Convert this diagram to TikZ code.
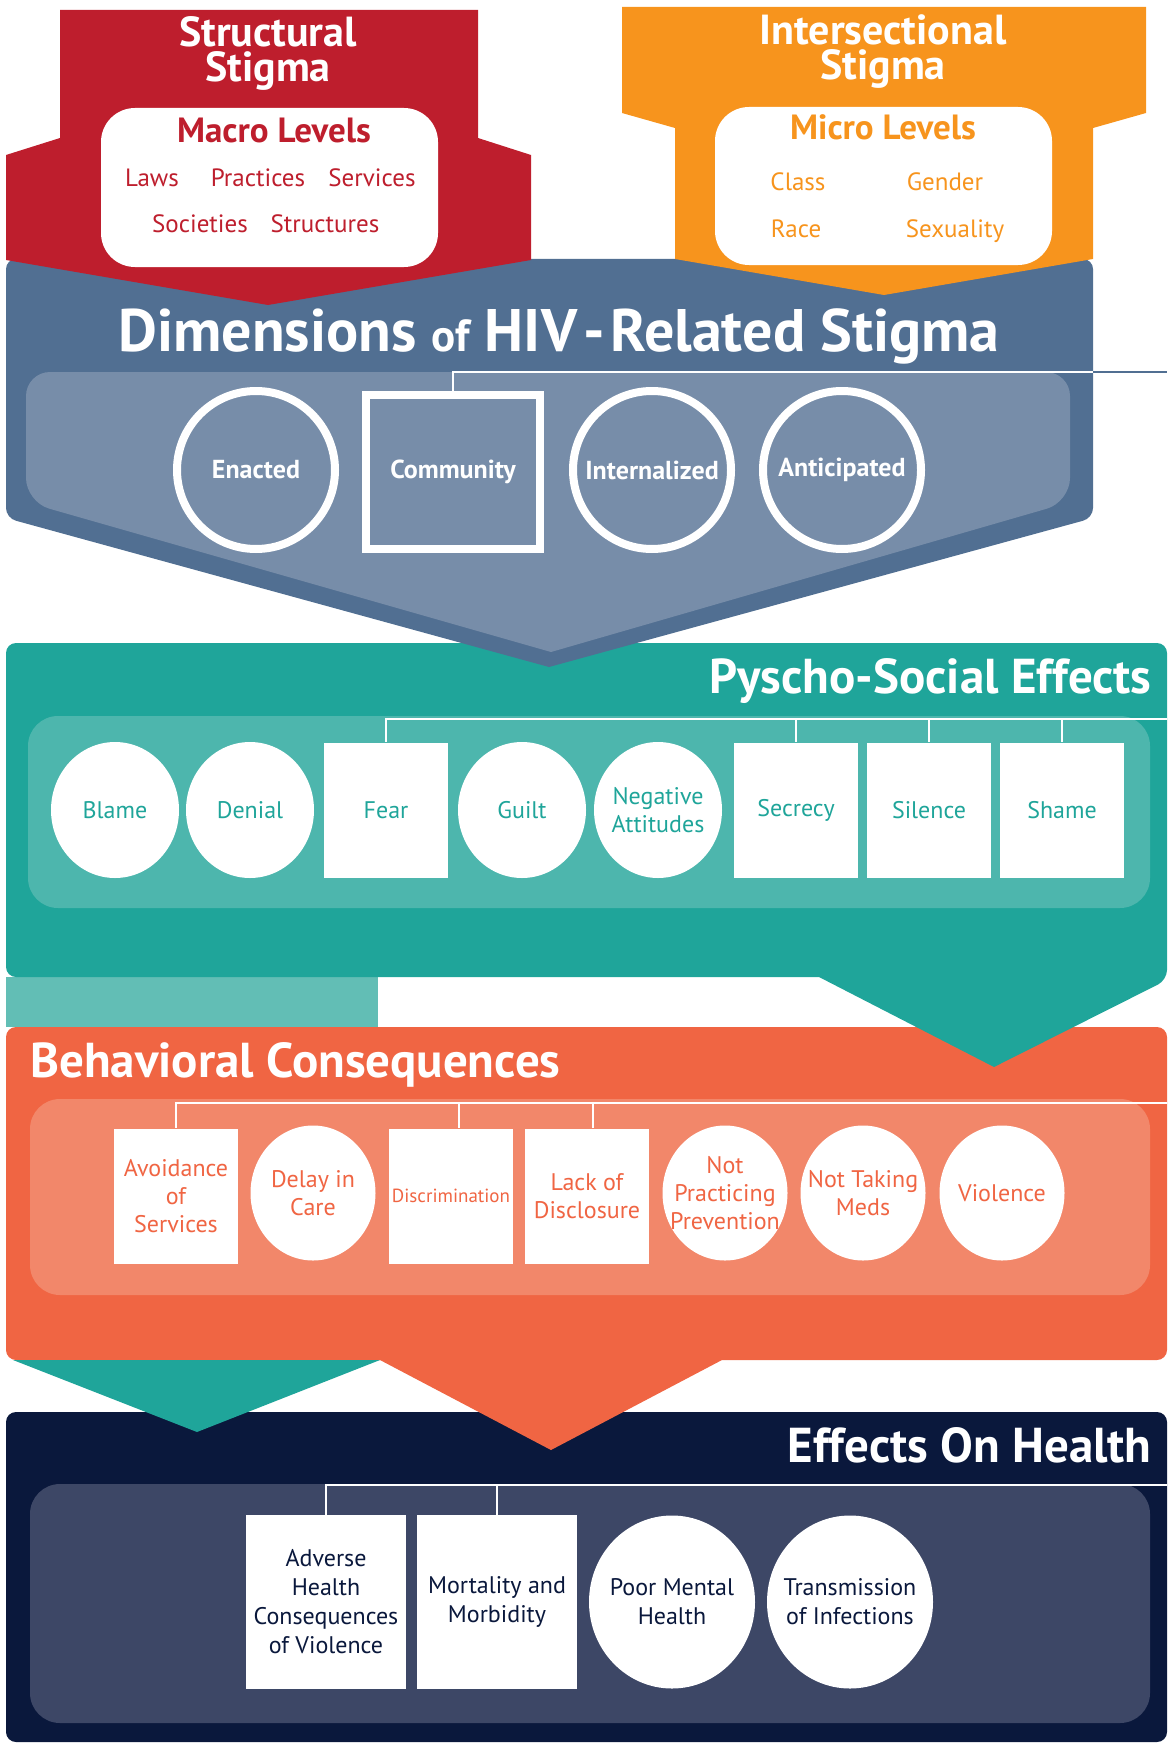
\documentclass[tikz,border=0pt]{standalone}
\usepackage{fontspec}
\setmainfont{PT Sans}
\usetikzlibrary{shapes.geometric}
\definecolor{stigred}{HTML}{BE1E2D}
\definecolor{stigorange}{HTML}{F7941D}
\definecolor{dimblue}{HTML}{516F92}
\definecolor{dimpanel}{HTML}{778DA9}
\definecolor{psyteal}{HTML}{1FA59A}
\definecolor{psypanel}{HTML}{4DB6AD}
\definecolor{psylight}{HTML}{62BEB5}
\definecolor{behorange}{HTML}{F06543}
\definecolor{behpanel}{HTML}{F2876A}
\definecolor{hlthnavy}{HTML}{0A183C}
\definecolor{hlthpanel}{HTML}{3D4766}
\begin{document}
\begin{tikzpicture}[x=0.5pt, y=-0.5pt,
    link/.style={white, line width=1.4pt},
    bigtitle/.style={text=white, inner sep=0pt, font=\bfseries\fontsize{24.5}{24.5}\selectfont},
    toptitle/.style={text=white, inner sep=0pt, align=center, font=\bfseries\fontsize{21}{17.5}\selectfont},
    levelhead/.style={inner sep=0pt, anchor=base, font=\bfseries\fontsize{17.5}{19}\selectfont},
    levelitem/.style={inner sep=0pt, anchor=base, font=\fontsize{12.5}{14}\selectfont},
    dimring/.style={circle, draw=white, line width=4pt, minimum size=79pt, inner sep=0pt, text=white, font=\bfseries\fontsize{13}{14}\selectfont},
    dimbox/.style={rectangle, draw=white, line width=4pt, minimum width=87pt, minimum height=77pt, inner sep=0pt, text=white, font=\bfseries\fontsize{13}{14}\selectfont},
    item/.style={fill=white, inner sep=0pt, align=center, font=\fontsize{12}{14}\selectfont},
    oval/.style={item, ellipse, inner xsep=-6pt},
    psyoval/.style={oval, minimum width=64pt, minimum height=68pt, text=psyteal},
    psybox/.style={item, rectangle, minimum width=62pt, minimum height=67.5pt, text=psyteal},
    behoval/.style={oval, minimum width=62.5pt, minimum height=67.5pt, text=behorange},
    behbox/.style={item, rectangle, minimum width=62pt, minimum height=67.5pt, text=behorange},
    hlthoval/.style={oval, minimum width=83pt, minimum height=86.5pt, text=hlthnavy, font=\fontsize{12}{14.5}\selectfont},
    hlthbox/.style={item, rectangle, minimum width=80pt, minimum height=87pt, text=hlthnavy, font=\fontsize{12}{14.5}\selectfont}]
    \useasboundingbox (0,0) rectangle (1167,1744);
    % bands, from the bottom one up
    \fill[hlthnavy, rounded corners=5pt] (1167,1412) -- (6,1412) -- (6,1742) -- (1167,1742) -- cycle;
    \fill[hlthpanel, rounded corners=15pt] (30,1484) rectangle (1150,1723);
    \fill[behorange] (1167,1360) -- (722,1360) -- (551,1450) -- (380,1360) [rounded corners=5pt] -- (6,1360) -- (6,1027) -- (1167,1027) -- cycle;
    \fill[behpanel, rounded corners=15pt] (30,1099) rectangle (1150,1295);
    \fill[psyteal] (13,1360) -- (380,1360) -- (197,1432) -- cycle;
    \fill[psylight] (6,977) rectangle (378,1027);
    \fill[psyteal] (1167,980) -- (994,1067) -- (819,977) [rounded corners=5pt] -- (6,977) -- (6,643) -- (1167,643) -- cycle;
    \fill[psypanel, rounded corners=15pt] (28,716) rectangle (1150,908);
    \fill[dimblue] (549,667) [rounded corners=5pt] -- (6,518) -- (6,259) -- (1093,259) -- (1093,518) [sharp corners] -- cycle;
    \fill[dimpanel] (551,652) [rounded corners=12pt] -- (26,502) -- (26,372) -- (1070,372) -- (1070,502) [sharp corners] -- cycle;
    \fill[stigred] (60,10) -- (478,10) -- (478,138) -- (531,155) -- (531,260) -- (268,305) -- (6,260) -- (6,155) -- (60,138) -- cycle;
    \fill[stigorange] (622,7) -- (1146,7) -- (1146,113) -- (1093,128) -- (1093,259) -- (884,295) -- (675,259) -- (675,128) -- (622,113) -- cycle;
    \fill[white, rounded corners=17pt] (101,108) rectangle (438,267);
    \fill[white, rounded corners=17pt] (715,107) rectangle (1052,265);

    % stigma levels
    \node[toptitle, anchor=north] (structural) at (268,16) {Structural\\Stigma};
    \node[toptitle, anchor=north] (intersect) at (883,14) {Intersectional\\Stigma};
    \node[levelhead, text=stigred] (macro) at (274,143) {Macro Levels};
    \node[levelitem, text=stigred] (laws) at (152,187) {Laws};
    \node[levelitem, text=stigred] (practices) at (258,187) {Practices};
    \node[levelitem, text=stigred] (services) at (372,187) {Services};
    \node[levelitem, text=stigred] (societies) at (200,233) {Societies};
    \node[levelitem, text=stigred] (structures) at (325,233) {Structures};
    \node[levelhead, text=stigorange] (micro) at (883,140) {Micro Levels};
    \node[levelitem, text=stigorange] (class) at (798,191) {Class};
    \node[levelitem, text=stigorange] (gender) at (945,191) {Gender};
    \node[levelitem, text=stigorange] (race) at (796,237) {Race};
    \node[levelitem, text=stigorange] (sexuality) at (955,237) {Sexuality};

    % dimensions
    \node[bigtitle, anchor=base, font=\bfseries\fontsize{30}{30}\selectfont] (dimtitle) at (559,351)
        {Dimensions {\fontsize{22.5}{22.5}\selectfont of} HIV\kern3pt-\kern3pt Related Stigma};
    \node[dimring] (enacted) at (256,470) {Enacted};
    \node[dimbox] (community) at (453,472) {Community};
    \node[dimring] (internalized) at (652,470) {Internalized};
    \node[dimring] (anticipated) at (842,470) {Anticipated};
    \coordinate (dimedge) at (1093,372);
    \coordinate (dimend) at (1167,372);
    \draw[link] (community.north) |- (dimedge);
    \draw[link, dimblue] (dimedge) -- (dimend);

    % pyscho-social effects
    \node[bigtitle, anchor=base east] (psytitle) at (1152,693) {Pyscho-Social Effects};
    \node[psyoval] (blame) at (115,810) {Blame};
    \node[psyoval] (denial) at (250,810) {Denial};
    \node[psybox] (fear) at (386,810) {Fear};
    \node[psyoval] (guilt) at (522,810) {Guilt};
    \node[psyoval] (negative) at (658,810) {Negative\\Attitudes};
    \node[psybox] (secrecy) at (796,810) {Secrecy};
    \node[psybox] (silence) at (929,810) {Silence};
    \node[psybox] (shame) at (1062,810) {Shame};
    \coordinate (psyend) at (1167,719);
    \draw[link] (fear.north) |- (psyend);
    \foreach \n in {secrecy, silence, shame}
        \draw[link] (\n.north) -- (\n.north |- psyend);

    % behavioral consequences
    \node[bigtitle, anchor=base west] (behtitle) at (30,1077) {Behavioral Consequences};
    \node[behbox] (avoid) at (176,1196) {Avoidance\\of\\Services};
    \node[behoval] (delay) at (313,1193) {Delay in\\Care};
    \node[behbox, font=\fontsize{9.5}{11}\selectfont] (discrim) at (451,1196) {Discrimination};
    \node[behbox] (lack) at (587,1196) {Lack of\\Disclosure};
    \node[behoval] (notprac) at (725,1193) {Not\\Practicing\\Prevention};
    \node[behoval] (notmeds) at (863,1193) {Not Taking\\Meds};
    \node[behoval] (violence) at (1002,1193) {Violence};
    \coordinate (behend) at (1167,1103);
    \draw[link] (avoid.north) |- (behend);
    \draw[link] ([xshift=4pt]discrim.north) -- ([xshift=4pt]discrim.north |- behend);
    \draw[link] ([xshift=3pt]lack.north) -- ([xshift=3pt]lack.north |- behend);

    % effects on health
    \node[bigtitle, anchor=base east] (hlthtitle) at (1152,1462) {Effects On Health};
    \node[hlthbox] (adverse) at (326,1602) {Adverse\\Health\\Consequences\\of Violence};
    \node[hlthbox] (mortality) at (497,1602) {Mortality and\\Morbidity};
    \node[hlthoval] (poormental) at (672,1602) {Poor Mental\\Health};
    \node[hlthoval] (transmission) at (850,1602) {Transmission\\of Infections};
    \coordinate (hlthend) at (1167,1485);
    \draw[link] (adverse.north) |- (hlthend);
    \draw[link] (mortality.north) -- (mortality.north |- hlthend);
\end{tikzpicture}
\end{document}
